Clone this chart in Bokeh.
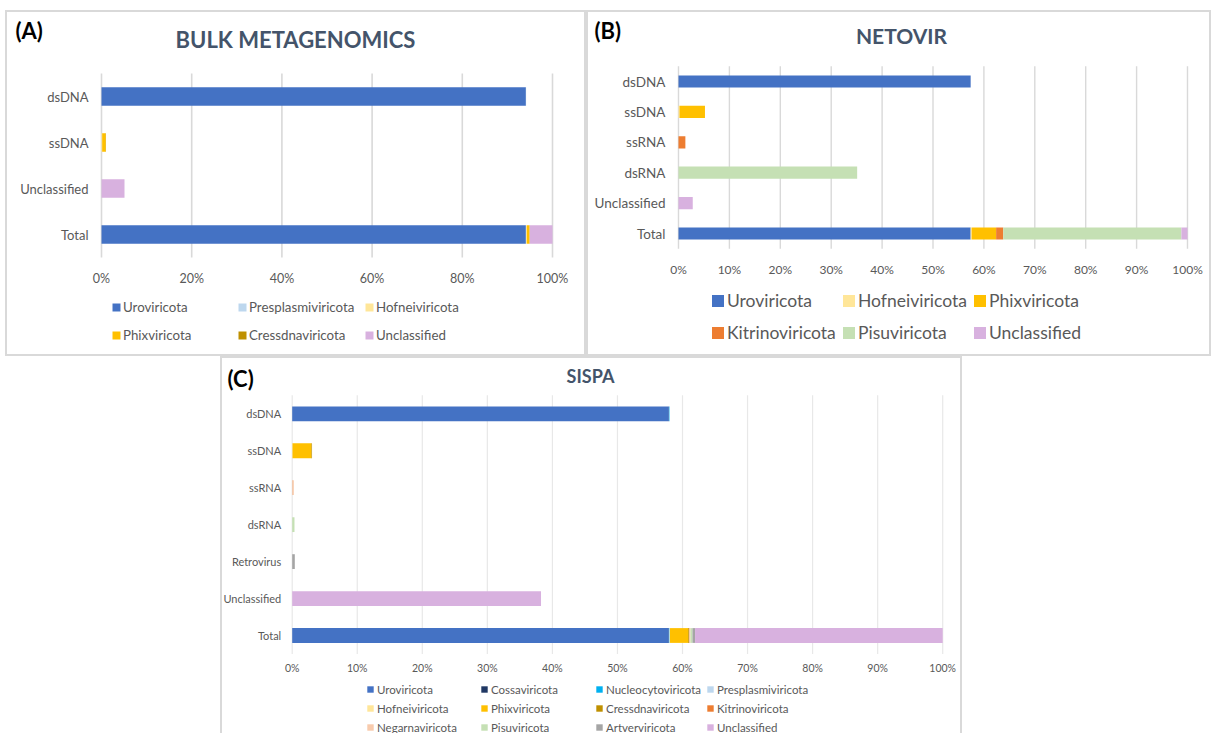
from bokeh.plotting import figure
from bokeh.models import (Range1d, FixedTicker, PrintfTickFormatter,
                          Legend, LegendItem, Label, Spacer, ColumnDataSource)
from bokeh.layouts import column, row
from bokeh.embed import file_html
from bokeh.resources import INLINE

# ---------------- data ----------------
a_categories = ["dsDNA", "ssDNA", "Unclassified", "Total"]
a_series = ["Uroviricota", "Presplasmiviricota", "Hofneiviricota",
            "Phixviricota", "Cressdnaviricota", "Unclassified"]
a_uroviricota = [94.1, 0, 0, 94.1]
a_presplasmiviricota = [0.05, 0, 0, 0.05]
a_hofneiviricota = [0, 0.15, 0, 0.15]
a_phixviricota = [0, 0.8, 0, 0.6]
a_cressdnaviricota = [0, 0.05, 0, 0.05]
a_unclassified = [0, 0, 5.1, 5.05]

b_categories = ["dsDNA", "ssDNA", "ssRNA", "dsRNA", "Unclassified", "Total"]
b_series = ["Uroviricota", "Hofneiviricota", "Phixviricota",
            "Kitrinoviricota", "Pisuviricota", "Unclassified"]
b_uroviricota = [57.4, 0, 0, 0, 0, 57.4]
b_hofneiviricota = [0, 0.2, 0, 0, 0, 0.2]
b_phixviricota = [0, 5.0, 0, 0, 0, 4.8]
b_kitrinoviricota = [0, 0, 1.35, 0, 0, 1.4]
b_pisuviricota = [0, 0, 0, 35.1, 0, 35.0]
b_unclassified = [0, 0, 0, 0, 2.8, 1.2]

c_categories = ["dsDNA", "ssDNA", "ssRNA", "dsRNA", "Retrovirus", "Unclassified", "Total"]
c_series = ["Uroviricota", "Cossaviricota", "Nucleocytoviricota", "Presplasmiviricota",
            "Hofneiviricota", "Phixviricota", "Cressdnaviricota", "Kitrinoviricota",
            "Negarnaviricota", "Pisuviricota", "Artverviricota", "Unclassified"]
c_uroviricota = [57.9, 0, 0, 0, 0, 0, 57.9]
c_cossaviricota = [0.02, 0, 0, 0, 0, 0, 0.02]
c_nucleocytoviricota = [0.08, 0, 0, 0, 0, 0, 0.08]
c_presplasmiviricota = [0.03, 0, 0, 0, 0, 0, 0.03]
c_hofneiviricota = [0, 0.05, 0, 0, 0, 0, 0.05]
c_phixviricota = [0, 2.9, 0, 0, 0, 0, 2.8]
c_cressdnaviricota = [0, 0.1, 0, 0, 0, 0, 0.15]
c_kitrinoviricota = [0, 0, 0.05, 0, 0, 0, 0.05]
c_negarnaviricota = [0, 0, 0.2, 0, 0, 0, 0.15]
c_pisuviricota = [0, 0, 0, 0.35, 0, 0, 0.3]
c_artverviricota = [0, 0, 0, 0, 0.4, 0, 0.4]
c_unclassified = [0, 0, 0, 0, 0, 38.25, 38.07]

ticks_a = [0, 20, 40, 60, 80, 100]
ticks_bc = [0, 10, 20, 30, 40, 50, 60, 70, 80, 90, 100]

# ---------------- style ----------------
COLORS = {
    "Uroviricota": "#4472C4", "Cossaviricota": "#203864", "Nucleocytoviricota": "#00B0F0",
    "Presplasmiviricota": "#BDD7EE", "Hofneiviricota": "#FFE699", "Phixviricota": "#FFC000",
    "Cressdnaviricota": "#BF9000", "Kitrinoviricota": "#ED7D31", "Negarnaviricota": "#F8CBAD",
    "Pisuviricota": "#C5E0B4", "Artverviricota": "#A5A5A5", "Unclassified": "#D8B1DF",
}
FONT = "Lato"
TXT = "#595959"
TITLE_C = "#44546A"
BOX = {"box-shadow": "inset 0 0 0 2px #d9d9d9"}
BOX_C = {"box-shadow": "inset 0 2px 0 0 #d9d9d9, inset 2px 0 0 0 #d9d9d9, inset -2px 0 0 0 #d9d9d9"}


def panel(cats, names, vals, geom, ticks, grid_color, grid_w, ylab_size, xlab_size,
          ystand, xstand, styles):
    # geom: canvas page box, pixel of 0% / 100%, pixel of last category centre, band size
    cx0, cy0, w, h, px0, px100, py_last, band = geom
    ppu = (px100 - px0) / 100.0
    xr = Range1d((cx0 - px0) / ppu, (cx0 + w - px0) / ppu)
    yr = Range1d((py_last - (cy0 + h)) / band, (py_last - cy0) / band)
    p = figure(width=w, height=h, x_range=xr, y_range=yr, title=None,
               toolbar_location=None, output_backend="svg",
               min_border_left=0, min_border_right=0, min_border_top=0, min_border_bottom=0)
    n = len(cats)
    ypos = [n - 1 - i for i in range(n)]
    # grid lines at tick positions, spanning the category bands only
    gsrc = ColumnDataSource(dict(x=ticks, y0=[-0.5] * len(ticks), y1=[n - 0.5] * len(ticks)))
    p.segment(x0="x", y0="y0", x1="x", y1="y1", source=gsrc, line_color=grid_color,
              line_width=grid_w)
    data = {"ypos": ypos}
    for nm, v in zip(names, vals):
        data[nm] = v
    src = ColumnDataSource(data)
    rs = p.hbar_stack(names, y="ypos", height=0.4, source=src,
                      color=[COLORS[nm] for nm in names], line_color=None)
    p.background_fill_color = None
    p.border_fill_color = None
    p.outline_line_color = None
    p.xgrid.grid_line_color = None
    p.ygrid.grid_line_color = None
    p.xaxis.ticker = FixedTicker(ticks=ticks)
    p.xaxis.formatter = PrintfTickFormatter(format="%d%%")
    p.xaxis.fixed_location = -0.5
    p.yaxis.ticker = FixedTicker(ticks=ypos)
    p.yaxis.major_label_overrides = {y: c for y, c in zip(ypos, cats)}
    p.yaxis.fixed_location = 0
    for ax in (p.xaxis[0], p.yaxis[0]):
        ax.axis_line_color = None
        ax.major_tick_line_color = None
        ax.minor_tick_line_color = None
        ax.major_tick_out = 0
        ax.major_tick_in = 0
        ax.major_label_text_font = FONT
        ax.major_label_text_color = TXT
    p.xaxis.major_label_text_font_size = xlab_size
    p.yaxis.major_label_text_font_size = ylab_size
    p.xaxis.major_label_standoff = xstand
    p.yaxis.major_label_standoff = ystand
    p.styles = styles
    return p, dict(zip(names, rs))


def legends(p, rmap, cols, xoffs, top, glyph, lab_h, spacing, size, standoff):
    nrows = max(len(c) for c in cols)
    leg_h = nrows * lab_h + (nrows - 1) * spacing
    vy = p.height - top - leg_h
    for col, x in zip(cols, xoffs):
        items = [LegendItem(label=nm, renderers=[rmap[nm]]) for nm in col]
        lg = Legend(items=items, location=(x, vy), orientation="vertical",
                    padding=0, margin=0, spacing=spacing, glyph_width=glyph,
                    glyph_height=glyph, label_height=lab_h, label_standoff=standoff,
                    border_line_color=None, background_fill_alpha=0,
                    label_text_font=FONT, label_text_font_size=size,
                    label_text_color=TXT)
        p.add_layout(lg)


def labels(p, title, tx, ty, tsize, tag, gx, gy):
    h = p.height
    p.add_layout(Label(x=tx, y=h - ty, x_units="screen", y_units="screen", text=title,
                       text_font=FONT, text_font_style="bold", text_font_size=tsize,
                       text_color=TITLE_C, text_align="center", text_baseline="middle"))
    p.add_layout(Label(x=gx, y=h - gy, x_units="screen", y_units="screen", text=tag,
                       text_font=FONT, text_font_style="bold", text_font_size="22px",
                       text_color="black", text_align="left", text_baseline="middle"))


# Panel A  (canvas at page x=5, y=10)
pa, ra = panel(a_categories, a_series,
               [a_uroviricota, a_presplasmiviricota, a_hofneiviricota,
                a_phixviricota, a_cressdnaviricota, a_unclassified],
               (5, 10, 581, 346, 101, 552, 234, 46), ticks_a, "#d9d9d9", 1.6,
               "13px", "12.5px", 13, 13, BOX)
legends(pa, ra, [["Uroviricota", "Phixviricota"], ["Presplasmiviricota", "Cressdnaviricota"],
                 ["Hofneiviricota", "Unclassified"]],
        [106, 232, 359], 289, 10, 16, 12, "13.3px", 2)
labels(pa, "BULK METAGENOMICS", 290, 29, "22px", "(A)", 10, 20)

# Panel B  (canvas at page x=586, y=10)
pb, rb = panel(b_categories, b_series,
               [b_uroviricota, b_hofneiviricota, b_phixviricota,
                b_kitrinoviricota, b_pisuviricota, b_unclassified],
               (586, 10, 625, 346, 678, 1187, 233, 30.4), ticks_bc, "#d9d9d9", 1.4,
               "13.5px", "12px", 13, 13, BOX)
legends(pb, rb, [["Uroviricota", "Kitrinoviricota"], ["Hofneiviricota", "Pisuviricota"],
                 ["Phixviricota", "Unclassified"]],
        [124, 255, 386], 280, 15, 21, 11, "17.5px", 2)
labels(pb, "NETOVIR", 315, 25, "21px", "(B)", 8, 20)

# Panel C  (canvas at page x=220, y=356)
pc, rc = panel(c_categories, c_series,
               [c_uroviricota, c_cossaviricota, c_nucleocytoviricota, c_presplasmiviricota,
                c_hofneiviricota, c_phixviricota, c_cressdnaviricota, c_kitrinoviricota,
                c_negarnaviricota, c_pisuviricota, c_artverviricota, c_unclassified],
               (220, 356, 742, 377, 291.7, 942.2, 635, 36.95), ticks_bc, "#e8e8e8", 1.2,
               "11px", "10.5px", 11, 8, BOX_C)
legends(pc, rc, [["Uroviricota", "Hofneiviricota", "Negarnaviricota"],
                 ["Cossaviricota", "Phixviricota", "Pisuviricota"],
                 ["Nucleocytoviricota", "Cressdnaviricota", "Artverviricota"],
                 ["Presplasmiviricota", "Kitrinoviricota", "Unclassified"]],
        [146, 260, 375, 486], 326, 8, 14, 5, "11.5px", 3)
labels(pc, "SISPA", 370, 19, "18px", "(C)", 7, 22)

layout = column(Spacer(height=10),
                row(Spacer(width=5), pa, pb),
                row(Spacer(width=220), pc))

open("out.html", "w").write(file_html(layout, INLINE))
